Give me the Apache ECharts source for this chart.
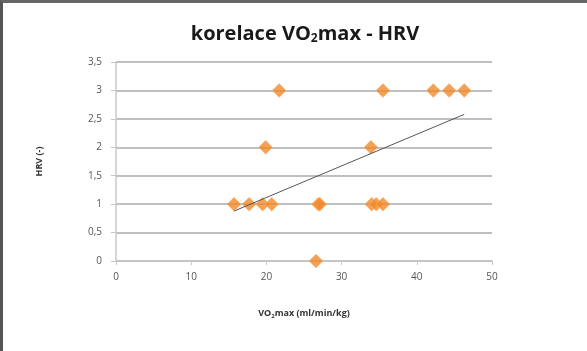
<!DOCTYPE html>
<html>
<head>
<meta charset="utf-8">
<script src="https://cdn.jsdelivr.net/npm/echarts@6/dist/echarts.min.js"></script>
<style>
html,body{margin:0;padding:0;background:#fff;}
#chart{width:587px;height:351px;box-sizing:border-box;border-top:3px solid #666;border-left:3px solid #555;}
</style>
</head>
<body>
<div id="chart"></div>
<script>
// VO2max (ml/min/kg) vs HRV (-)
var vo2 = [21.7, 35.5, 42.2, 44.3, 46.3, 19.9, 33.9, 15.7, 17.7, 19.5, 20.7, 26.9, 27.1, 34.0, 34.6, 35.5, 26.6];
var hrv = [3, 3, 3, 3, 3, 2, 2, 1, 1, 1, 1, 1, 1, 1, 1, 1, 0];
var yTicks = ['0', '0,5', '1', '1,5', '2', '2,5', '3', '3,5'];

var points = vo2.map(function (x, i) { return [x, hrv[i]]; });

// linear trend (least squares), drawn from min x to max x
function trend(xs, ys) {
    var n = xs.length, sx = 0, sy = 0, sxy = 0, sxx = 0;
    for (var i = 0; i < n; i++) {
        sx += xs[i]; sy += ys[i]; sxy += xs[i] * ys[i]; sxx += xs[i] * xs[i];
    }
    var k = (n * sxy - sx * sy) / (n * sxx - sx * sx),
        q = (sy - k * sx) / n,
        x0 = Math.min.apply(null, xs),
        x1 = Math.max.apply(null, xs);
    return [[x0, k * x0 + q], [x1, k * x1 + q]];
}

var font = '"Open Sans", "Noto Sans", sans-serif';
var chart = echarts.init(document.getElementById('chart'));
chart.setOption({
    animation: false,
    title: {
        text: '{a|korelace VO}{s|2}{a|max - HRV}',
        left: 297,
        top: 16,
        textAlign: 'center',
        textStyle: {
            rich: {
                a: {fontFamily: font, fontWeight: 'bold', fontSize: 20, color: '#1a1a1a'},
                s: {fontFamily: font, fontWeight: 'bold', fontSize: 12, color: '#1a1a1a', verticalAlign: 'bottom', padding: [9, 0, 0, 0]}
            }
        }
    },
    grid: {left: 113, right: 95, top: 59, bottom: 90},
    xAxis: {
        type: 'value',
        min: 0, max: 50, interval: 10,
        name: '{a|VO}{s|2}{a|max (ml/min/kg)}',
        nameLocation: 'middle',
        nameGap: 47,
        nameTextStyle: {
            rich: {
                a: {fontFamily: font, fontSize: 9, fontWeight: 'bold', color: '#333'},
                s: {fontFamily: font, fontSize: 6, fontWeight: 'bold', color: '#333', padding: [5, 0, 0, 0]}
            }
        },
        axisLine: {lineStyle: {color: '#c8c8c8', width: 1.5}},
        axisTick: {show: true, length: 4, lineStyle: {color: '#c8c8c8'}},
        axisLabel: {fontFamily: font, fontSize: 10, color: '#555', margin: 11},
        splitLine: {show: false}
    },
    yAxis: {
        type: 'value',
        min: 0, max: 3.5, interval: 0.5,
        name: 'HRV (-)',
        nameLocation: 'middle',
        nameGap: 72,
        nameTextStyle: {fontFamily: font, fontSize: 9, fontWeight: 'bold', color: '#333'},
        axisLine: {show: true, lineStyle: {color: '#c8c8c8', width: 1.5}},
        axisTick: {show: true, length: 5, lineStyle: {color: '#c8c8c8'}},
        axisLabel: {
            fontFamily: font, fontSize: 10, color: '#555', margin: 14,
            formatter: function (v) { return yTicks[Math.round(v * 2)]; }
        },
        splitLine: {show: true, lineStyle: {color: '#aaaaaa', width: 1.5}}
    },
    series: [
        {
            type: 'scatter',
            data: points,
            symbol: 'diamond',
            symbolSize: 14,
            itemStyle: {color: '#f28a2a', borderColor: '#f7c08e', borderWidth: 0.5},
            z: 3
        },
        {
            type: 'line',
            data: trend(vo2, hrv),
            showSymbol: false,
            symbol: 'none',
            lineStyle: {color: '#555', width: 1},
            z: 4
        }
    ]
});
</script>
</body>
</html>
